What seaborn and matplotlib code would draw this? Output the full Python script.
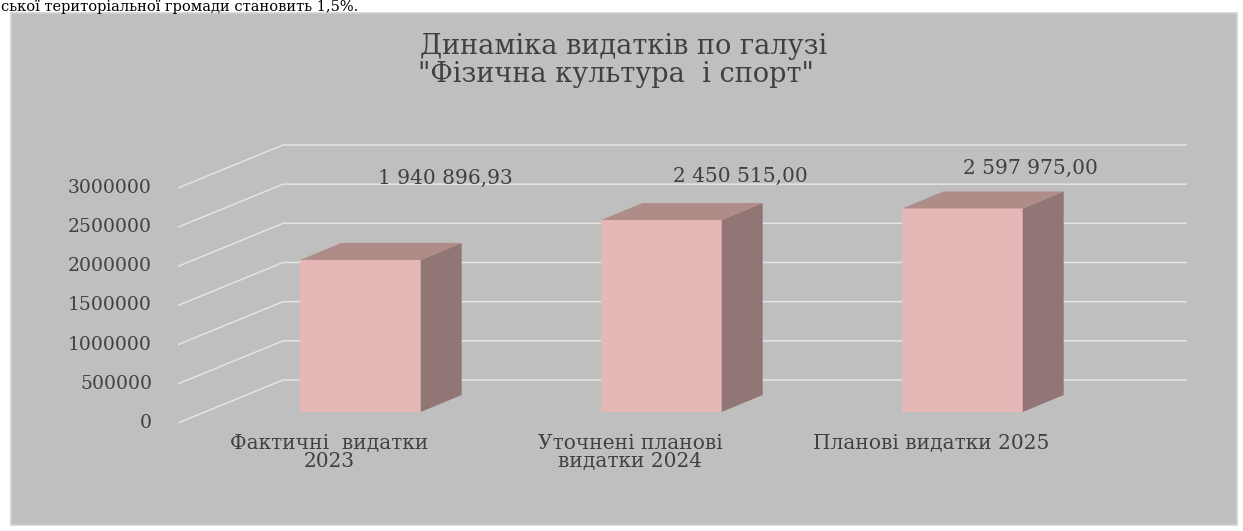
import matplotlib
matplotlib.use("Agg")
import matplotlib.pyplot as plt
from matplotlib.patches import Polygon, Rectangle
from matplotlib.transforms import ScaledTranslation
import seaborn as sns
import pandas as pd

# ---- data ----
categories = ["Фактичні  видатки\n2023", "Уточнені планові\nвидатки 2024", "Планові видатки 2025"]
values = [1940896.93, 2450515.00, 2597975.00]
y_ticks = [0, 500000, 1000000, 1500000, 2000000, 2500000, 3000000]
title_lines = ["Динаміка видатків по галузі", "\"Фізична культура  і спорт\""]
top_text = "ської територіальної громади становить 1,5%."

# ---- style ----
plt.rcParams['font.family'] = ['DejaVu Serif', 'DejaVu Sans']
BG = "#BFBFBF"
FRONT = "#E5B8B7"
SIDE = "#927675"
TOP = "#AF8C88"
GRID = "#E4E4E4"
TXT = "#404040"

W, H, DPI = 1243, 531, 100
fig = plt.figure(figsize=(W / DPI, H / DPI), dpi=DPI, facecolor="white")


def fx(px):
    return px / W


def fy(py):
    return 1 - py / H


fig.add_artist(Rectangle((fx(11), fy(525)), fx(1237) - fx(11), fy(13) - fy(525),
                         transform=fig.transFigure, facecolor=BG, edgecolor="#D2D2D2",
                         lw=1.2, zorder=0))

fig.text(fx(1), fy(11), top_text, ha="left", va="baseline", fontsize=10.5, color="black")

fig.text(fx(624), fy(46), title_lines[0], ha="center", va="center", fontsize=19.5, color=TXT)
fig.text(fx(616), fy(74), title_lines[1], ha="center", va="center", fontsize=19.5, color=TXT)

ax = fig.add_axes([fx(205), fy(412), fx(1109) - fx(205), fy(177) - fy(412)])
ax.set_facecolor("none")

df = pd.DataFrame({"cat": categories, "val": values})
sns.barplot(data=df, x="cat", y="val", ax=ax, color=FRONT, saturation=1, width=0.4,
            errorbar=None, edgecolor="none", zorder=3)
bars = list(ax.patches)

x0 = -0.5166
x1 = x0 + 904 / 301
ax.set_xlim(x0, x1)
ax.set_ylim(y_ticks[0], y_ticks[-1])
ax.set_axis_off()


def d(px, py):
    inv = ax.transData.inverted()
    o = ax.transData.transform((0, 0))
    r = inv.transform((o[0] + px, o[1] + py))
    return r[0], r[1]


# back wall gridlines with diagonal side lines
bx, by = d(78, 32)
fxo, fyo = d(-27, -11)
for v in y_ticks:
    ax.plot([x0 + fxo, x0 + bx, x1 + bx], [v + fyo, v + by, v + by],
            color=GRID, lw=1.1, zorder=1, clip_on=False, solid_capstyle="butt")

# 3D faces for bars
ddx, ddy = d(41, 17)
for p in bars:
    x = p.get_x()
    w = p.get_width()
    h = p.get_height()
    side = [(x + w, 0), (x + w + ddx, ddy), (x + w + ddx, h + ddy), (x + w, h)]
    top = [(x, h), (x + ddx, h + ddy), (x + w + ddx, h + ddy), (x + w, h)]
    ax.add_patch(Polygon(side, closed=True, facecolor=SIDE, edgecolor="none", zorder=3, clip_on=False))
    ax.add_patch(Polygon(top, closed=True, facecolor=TOP, edgecolor="none", zorder=3, clip_on=False))
    p.set_clip_on(False)


def off(px, py):
    return ax.transData + ScaledTranslation(px / DPI, py / DPI, fig.dpi_scale_trans)


# y tick labels on the front axis plane
for v in y_ticks:
    ax.text(x0, v, f"{v}", transform=off(-53, -11), ha="right", va="center",
            fontsize=13.5, color=TXT, clip_on=False)

# category labels
for i, c in enumerate(categories):
    ax.text(i, 0, c, transform=off(-31, -22), ha="center", va="top", fontsize=14.5,
            color=TXT, linespacing=0.92, multialignment="center", clip_on=False)

# value labels
label_dx = [85, 79, 68]
label_dy = [-1, 1, 9]
for i, v in enumerate(values):
    s = f"{v:,.2f}".replace(",", " ").replace(".", ",")
    ax.text(i, y_ticks[-1], s, transform=off(label_dx[i], label_dy[i]), ha="center",
            va="center", fontsize=14.5, color=TXT, clip_on=False)

fig.savefig("out.png", dpi=DPI, facecolor="white")
